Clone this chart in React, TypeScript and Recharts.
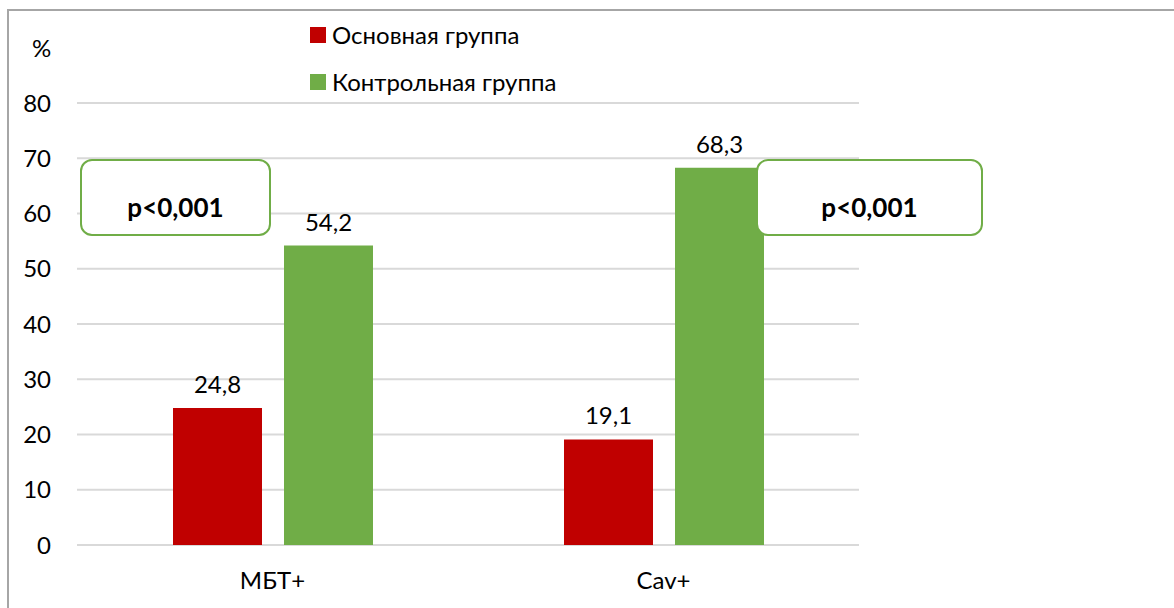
import React from "react";
import {
  BarChart, Bar, XAxis, YAxis, CartesianGrid, Legend, LabelList,
} from "recharts";

const categories = ["МБТ+", "Cav+"];
const mainGroup = [24.8, 19.1];
const controlGroup = [54.2, 68.3];
const yTicks = [0, 10, 20, 30, 40, 50, 60, 70, 80];
const pValues = ["p<0,001", "p<0,001"];
const seriesNames = ["Основная группа", "Контрольная группа"];

const RED = "#c00000";
const GREEN = "#70ad47";
const FONT = "Lato, 'Open Sans', sans-serif";

const data = categories.map((name, i) => ({
  name,
  main: mainGroup[i],
  control: controlGroup[i],
}));

const fmt = (v: any) => String(v).replace(".", ",");

function LegendContent({ payload }: any) {
  const items = [...(payload || [])].sort(
    (a: any, b: any) => seriesNames.indexOf(a.value) - seriesNames.indexOf(b.value)
  );
  return (
    <div style={{ fontFamily: FONT, fontSize: 24, color: "#000" }}>
      {items.map((entry: any) => (
        <div key={entry.value} style={{ display: "flex", alignItems: "center", height: 47 }}>
          <span style={{ width: 16, height: 16, background: entry.color, marginRight: 6 }} />
          <span>{entry.value}</span>
        </div>
      ))}
    </div>
  );
}

function PBox({ left, width, text }: { left: number; width: number; text: string }) {
  return (
    <div
      style={{
        position: "absolute", left, top: 159, width, height: 77,
        boxSizing: "border-box", border: `2px solid ${GREEN}`, borderRadius: 12,
        background: "#fff", display: "flex", alignItems: "center", justifyContent: "center",
        paddingTop: 18,
        fontFamily: FONT, fontWeight: 700, fontSize: 26, color: "#000",
      }}
    >
      {text}
    </div>
  );
}

export default function App() {
  return (
    <div style={{ position: "absolute", left: 0, top: 0, width: 1174, height: 608, background: "#fff" }}>
      <div
        style={{
          position: "absolute", left: 7, top: 9, right: 0, bottom: 0,
          borderTop: "2px solid #a6a6a6", borderLeft: "2px solid #a6a6a6",
        }}
      />
      <BarChart
        width={1174}
        height={608}
        data={data}
        margin={{ top: 103, right: 315, bottom: 33, left: 15 }}
        barSize={89}
        barGap={22}
        style={{ position: "absolute", left: 0, top: 0 }}
      >
        <CartesianGrid vertical={false} stroke="#d9d9d9" strokeWidth={2} />
        <XAxis
          dataKey="name"
          height={30}
          axisLine={false}
          tickLine={false}
          tickMargin={21}
          tick={{ fill: "#000", fontSize: 24, fontFamily: FONT }}
        />
        <YAxis
          width={62}
          domain={[0, 80]}
          ticks={yTicks}
          axisLine={false}
          tickLine={false}
          tickMargin={20}
          tick={{ fill: "#000", fontSize: 24, fontFamily: FONT }}
        />
        <Legend
          layout="horizontal"
          verticalAlign="middle"
          align="center"
          content={<LegendContent />}
          wrapperStyle={{ left: 310, top: 11, width: "auto" }}
        />
        <Bar dataKey="main" name={seriesNames[0]} fill={RED} isAnimationActive={false}>
          <LabelList dataKey="main" position="top" offset={15} formatter={fmt}
            style={{ fill: "#000", fontSize: 24, fontFamily: FONT }} />
        </Bar>
        <Bar dataKey="control" name={seriesNames[1]} fill={GREEN} isAnimationActive={false}>
          <LabelList dataKey="control" position="top" offset={15} formatter={fmt}
            style={{ fill: "#000", fontSize: 24, fontFamily: FONT }} />
        </Bar>
      </BarChart>
      <div style={{ position: "absolute", left: 32, top: 33, fontFamily: FONT, fontSize: 24 }}>%</div>
      <PBox left={80} width={191} text={pValues[0]} />
      <PBox left={756} width={227} text={pValues[1]} />
    </div>
  );
}
